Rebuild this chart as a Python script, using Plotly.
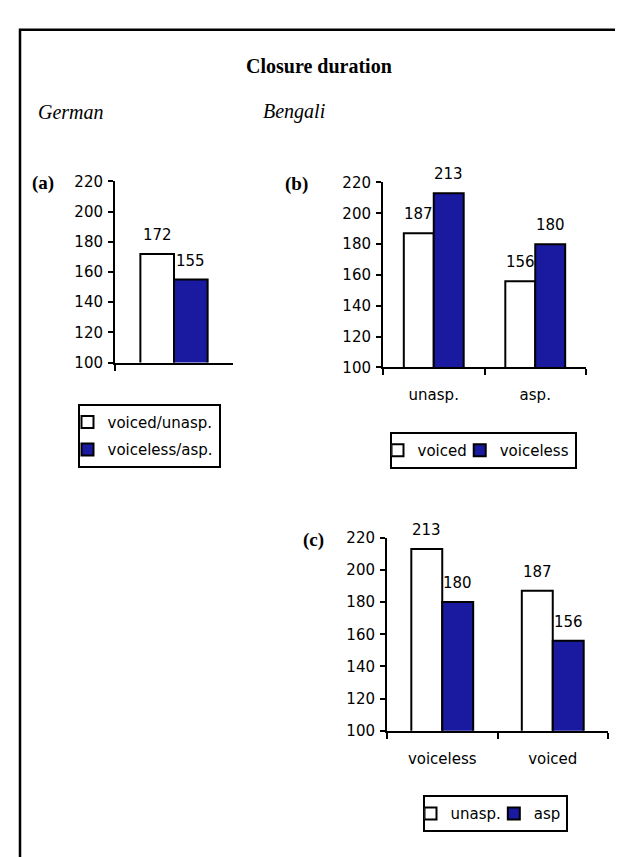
import plotly.graph_objects as go

# ---- data ----
cats_a = ["German"]
a_voiced_unasp = [172]
a_voiceless_asp = [155]

cats_b = ["unasp.", "asp."]
b_voiced = [187, 156]
b_voiceless = [213, 180]

cats_c = ["voiceless", "voiced"]
c_unasp = [213, 187]
c_asp = [180, 156]

y_ticks = [100, 120, 140, 160, 180, 200, 220]

W, H = 623, 857
WHITE = "white"
BLUE = "#1a1aa0"
SANS = "DejaVu Sans"
SERIF = "Liberation Serif"
FS = 15


def px(x):
    return x / W


def py(y):
    return 1 - y / H


fig = go.Figure()

panels = [
    (cats_a, [("voiced/unasp.", a_voiced_unasp, WHITE), ("voiceless/asp.", a_voiceless_asp, BLUE)],
     "", 0.285, "legend", (107, 225), (353, 168)),
    (cats_b, [("voiced", b_voiced, WHITE), ("voiceless", b_voiceless, BLUE)],
     "2", 0.295, "legend2", (375, 578), (358, 169)),
    (cats_c, [("unasp.", c_unasp, WHITE), ("asp", c_asp, BLUE)],
     "3", 0.28, "legend3", (379, 600), (729, 532)),
]

annotations = []
for pi, (cats, series, sfx, w, lg, xd, yd) in enumerate(panels):
    xa = "x" + sfx
    ya = "y" + sfx
    for j, (name, vals, col) in enumerate(series):
        fig.add_trace(go.Bar(
            x=cats, y=vals, name=name, xaxis=xa, yaxis=ya,
            width=w, offset=-w if j == 0 else 0,
            marker=dict(color=col, line=dict(color="black", width=2)),
            legend=lg, legendgroup=f"{lg}_{j}", showlegend=True,
            cliponaxis=True, hoverinfo="skip",
        ))
        for i, v in enumerate(vals):
            annotations.append(dict(
                x=i + (j - 0.5) * w, y=v, xref=xa, yref=ya,
                text=str(v), showarrow=False, yshift=19,
                font=dict(family=SANS, size=FS, color="black"),
            ))
    axis_common = dict(showline=True, linecolor="black", linewidth=2, ticks="outside",
                       tickcolor="black", tickwidth=2, showgrid=False, zeroline=False,
                       fixedrange=True)
    xkey = "xaxis" + sfx
    ykey = "yaxis" + sfx
    fig.update_layout(**{
        xkey: dict(domain=[px(xd[0]), px(xd[1])], anchor=ya, type="category",
                   tickson="boundaries", ticklen=6, showticklabels=(pi != 0),
                   ticklabelstandoff=13,
                   tickfont=dict(family=SANS, size=FS, color="black"),
                   range=[-0.5, len(cats) - 0.5], **axis_common),
        ykey: dict(domain=[py(yd[0]), py(yd[1])], anchor=xa, range=[100, 220],
                   tickvals=y_ticks, ticklen=5, ticklabelstandoff=2,
                   tickfont=dict(family=SANS, size=FS, color="black"), **axis_common),
    })

legend_common = dict(bordercolor="black", borderwidth=2, bgcolor="white",
                     font=dict(family=SANS, size=FS, color="black"),
                     xanchor="center", yanchor="top", itemclick=False, itemdoubleclick=False,
                     indentation=-12)
fig.update_layout(
    legend=dict(x=px(141), y=py(395), orientation="v", tracegroupgap=5, **legend_common),
    legend2=dict(x=px(475), y=py(424), orientation="h", **legend_common),
    legend3=dict(x=px(487), y=py(795), orientation="h", **legend_common),
)

texts = [
    ("Closure duration", 311, 50, "center", dict(family=SERIF, size=20, color="black"), True, False),
    ("German", 28, 97, "left", dict(family=SERIF, size=20, color="black"), False, True),
    ("Bengali", 253, 97, "left", dict(family=SERIF, size=20, color="black"), False, True),
    ("(a)", 22, 170, "left", dict(family=SERIF, size=19, color="black"), True, False),
    ("(b)", 275, 171, "left", dict(family=SERIF, size=19, color="black"), True, False),
    ("(c)", 293, 534, "left", dict(family=SERIF, size=19, color="black"), True, False),
]
for t, x, y, anc, f, bold, ital in texts:
    s = t
    if bold:
        s = f"<b>{s}</b>"
    if ital:
        s = f"<i>{s}</i>"
    annotations.append(dict(text=s, x=px(x), y=py(y), xref="paper", yref="paper",
                            xanchor=anc, yanchor="middle", showarrow=False, font=f))

fig.update_layout(
    width=W, height=H, margin=dict(l=0, r=0, t=0, b=0),
    paper_bgcolor="white", plot_bgcolor="white",
    barmode="overlay", annotations=annotations,
    shapes=[dict(type="rect", xref="paper", yref="paper",
                 x0=px(12), x1=px(620), y0=py(880), y1=py(13),
                 line=dict(color="black", width=2.5), fillcolor="rgba(0,0,0,0)", layer="below")],
    hovermode=False,
)

fig.write_html("out.html")
